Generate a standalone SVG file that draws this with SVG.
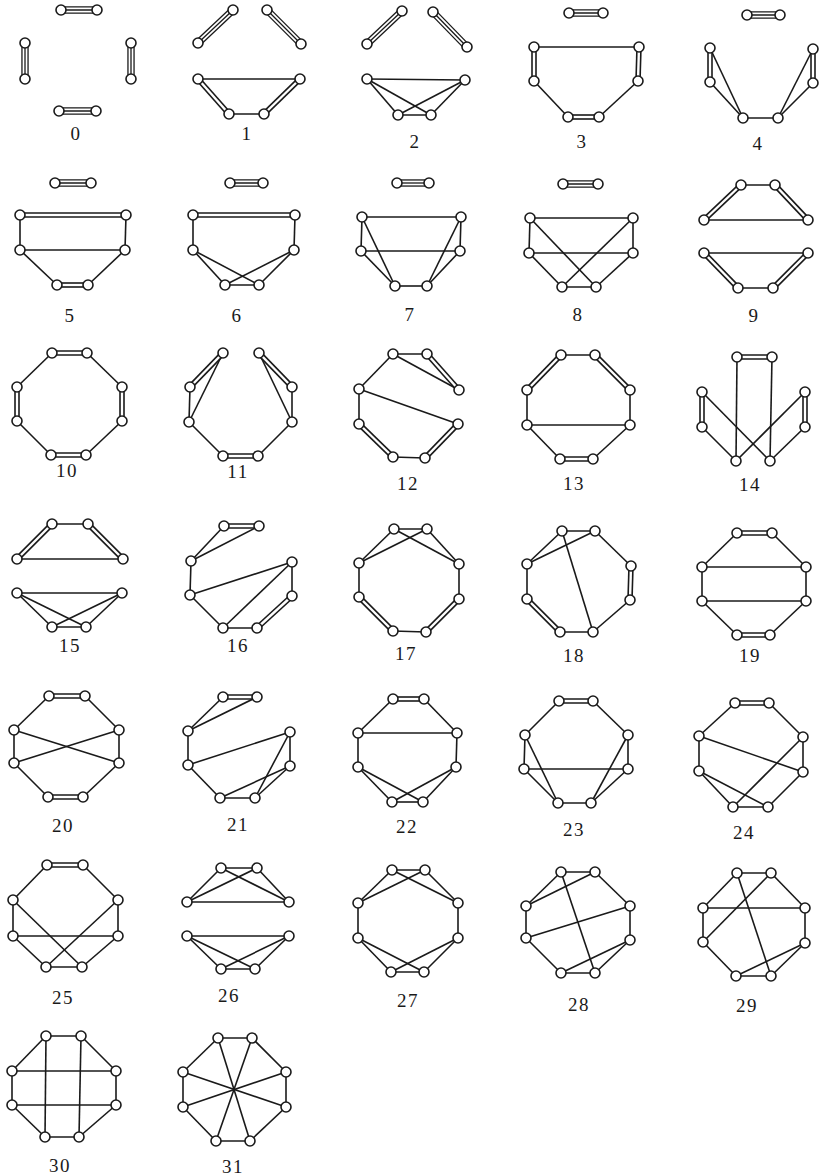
<svg xmlns="http://www.w3.org/2000/svg" xmlns:xlink="http://www.w3.org/1999/xlink" width="819" height="1176" viewBox="0 0 819 1176">
<style>
.s line{stroke:#1a1a1a;stroke-width:1.6}
.d1 line{stroke:#1a1a1a;stroke-width:5.6}
.d2 line{stroke:#fff;stroke-width:2.4}
.t1 line{stroke:#1a1a1a;stroke-width:7.4}
.t2 line{stroke:#fff;stroke-width:4.8}
.t3 line{stroke:#1a1a1a;stroke-width:1.3}
.nd{fill:#fff;stroke:#1a1a1a;stroke-width:1.6}
.lbl{font-family:"Liberation Serif",serif;font-size:19px;fill:#1a1a1a;text-anchor:middle;letter-spacing:1.5px}
</style>
<defs><circle id="n" class="nd" r="5"/></defs>
<rect width="819" height="1176" fill="#fff"/>

<g id="connectors">
<g id="e0">
<g class="t1"><line x1="61" y1="10" x2="97" y2="10"/><line x1="131" y1="43" x2="131" y2="79"/><line x1="96" y1="111" x2="59" y2="111"/><line x1="25" y1="79" x2="25" y2="43"/></g>
<g class="t2"><line x1="61" y1="10" x2="97" y2="10"/><line x1="131" y1="43" x2="131" y2="79"/><line x1="96" y1="111" x2="59" y2="111"/><line x1="25" y1="79" x2="25" y2="43"/></g>
<g class="t3"><line x1="61" y1="10" x2="97" y2="10"/><line x1="131" y1="43" x2="131" y2="79"/><line x1="96" y1="111" x2="59" y2="111"/><line x1="25" y1="79" x2="25" y2="43"/></g>
</g>
<g id="e1">
<g class="t1"><line x1="198" y1="43" x2="233" y2="10"/><line x1="267" y1="10" x2="301" y2="44"/></g>
<g class="t2"><line x1="198" y1="43" x2="233" y2="10"/><line x1="267" y1="10" x2="301" y2="44"/></g>
<g class="t3"><line x1="198" y1="43" x2="233" y2="10"/><line x1="267" y1="10" x2="301" y2="44"/></g>
<g class="s"><line x1="198" y1="79" x2="300" y2="79"/><line x1="229" y1="114" x2="264" y2="114"/></g>
<g class="d1"><line x1="198" y1="79" x2="229" y2="114"/><line x1="264" y1="114" x2="300" y2="79"/></g>
<g class="d2"><line x1="198" y1="79" x2="229" y2="114"/><line x1="264" y1="114" x2="300" y2="79"/></g>
</g>
<g id="e2">
<g class="t1"><line x1="367" y1="44" x2="402" y2="11"/><line x1="433" y1="12" x2="467" y2="47"/></g>
<g class="t2"><line x1="367" y1="44" x2="402" y2="11"/><line x1="433" y1="12" x2="467" y2="47"/></g>
<g class="t3"><line x1="367" y1="44" x2="402" y2="11"/><line x1="433" y1="12" x2="467" y2="47"/></g>
<g class="s"><line x1="367" y1="79" x2="465" y2="80"/><line x1="367" y1="79" x2="398" y2="115"/><line x1="367" y1="79" x2="431" y2="115"/><line x1="465" y1="80" x2="398" y2="115"/><line x1="465" y1="80" x2="431" y2="115"/><line x1="398" y1="115" x2="431" y2="115"/></g>
</g>
<g id="e3">
<g class="t1"><line x1="569" y1="13" x2="603" y2="13"/></g>
<g class="t2"><line x1="569" y1="13" x2="603" y2="13"/></g>
<g class="t3"><line x1="569" y1="13" x2="603" y2="13"/></g>
<g class="s"><line x1="534" y1="47" x2="639" y2="47"/><line x1="534" y1="81" x2="568" y2="117"/><line x1="638" y1="81" x2="599" y2="117"/></g>
<g class="d1"><line x1="534" y1="47" x2="534" y2="81"/><line x1="639" y1="47" x2="638" y2="81"/><line x1="568" y1="117" x2="599" y2="117"/></g>
<g class="d2"><line x1="534" y1="47" x2="534" y2="81"/><line x1="639" y1="47" x2="638" y2="81"/><line x1="568" y1="117" x2="599" y2="117"/></g>
</g>
<g id="e4">
<g class="t1"><line x1="747" y1="15" x2="780" y2="15"/></g>
<g class="t2"><line x1="747" y1="15" x2="780" y2="15"/></g>
<g class="t3"><line x1="747" y1="15" x2="780" y2="15"/></g>
<g class="s"><line x1="710" y1="48" x2="743" y2="118"/><line x1="710" y1="82" x2="743" y2="118"/><line x1="743" y1="118" x2="778" y2="118"/><line x1="778" y1="118" x2="813" y2="49"/><line x1="778" y1="118" x2="813" y2="83"/></g>
<g class="d1"><line x1="710" y1="48" x2="710" y2="82"/><line x1="813" y1="49" x2="813" y2="83"/></g>
<g class="d2"><line x1="710" y1="48" x2="710" y2="82"/><line x1="813" y1="49" x2="813" y2="83"/></g>
</g>
<g id="e5">
<g class="t1"><line x1="55" y1="183" x2="91" y2="183"/></g>
<g class="t2"><line x1="55" y1="183" x2="91" y2="183"/></g>
<g class="t3"><line x1="55" y1="183" x2="91" y2="183"/></g>
<g class="s"><line x1="20" y1="215" x2="20" y2="250"/><line x1="126" y1="215" x2="125" y2="250"/><line x1="20" y1="250" x2="125" y2="250"/><line x1="20" y1="250" x2="57" y2="285"/><line x1="125" y1="250" x2="88" y2="285"/></g>
<g class="d1"><line x1="20" y1="215" x2="126" y2="215"/><line x1="57" y1="285" x2="88" y2="285"/></g>
<g class="d2"><line x1="20" y1="215" x2="126" y2="215"/><line x1="57" y1="285" x2="88" y2="285"/></g>
</g>
<g id="e6">
<g class="t1"><line x1="230" y1="183" x2="263" y2="183"/></g>
<g class="t2"><line x1="230" y1="183" x2="263" y2="183"/></g>
<g class="t3"><line x1="230" y1="183" x2="263" y2="183"/></g>
<g class="s"><line x1="193" y1="215" x2="193" y2="250"/><line x1="295" y1="215" x2="294" y2="250"/><line x1="193" y1="250" x2="225" y2="285"/><line x1="193" y1="250" x2="259" y2="285"/><line x1="294" y1="250" x2="225" y2="285"/><line x1="294" y1="250" x2="259" y2="285"/><line x1="225" y1="285" x2="259" y2="285"/></g>
<g class="d1"><line x1="193" y1="215" x2="295" y2="215"/></g>
<g class="d2"><line x1="193" y1="215" x2="295" y2="215"/></g>
</g>
<g id="e7">
<g class="t1"><line x1="397" y1="183" x2="429" y2="183"/></g>
<g class="t2"><line x1="397" y1="183" x2="429" y2="183"/></g>
<g class="t3"><line x1="397" y1="183" x2="429" y2="183"/></g>
<g class="s"><line x1="362" y1="217" x2="461" y2="217"/><line x1="362" y1="217" x2="361" y2="251"/><line x1="362" y1="217" x2="395" y2="286"/><line x1="361" y1="251" x2="460" y2="251"/><line x1="361" y1="251" x2="395" y2="286"/><line x1="461" y1="217" x2="460" y2="251"/><line x1="461" y1="217" x2="427" y2="286"/><line x1="460" y1="251" x2="427" y2="286"/><line x1="395" y1="286" x2="427" y2="286"/></g>
</g>
<g id="e8">
<g class="t1"><line x1="563" y1="184" x2="598" y2="184"/></g>
<g class="t2"><line x1="563" y1="184" x2="598" y2="184"/></g>
<g class="t3"><line x1="563" y1="184" x2="598" y2="184"/></g>
<g class="s"><line x1="530" y1="218" x2="633" y2="218"/><line x1="530" y1="218" x2="529" y2="253"/><line x1="530" y1="218" x2="596" y2="287"/><line x1="633" y1="218" x2="633" y2="253"/><line x1="633" y1="218" x2="562" y2="287"/><line x1="529" y1="253" x2="633" y2="253"/><line x1="529" y1="253" x2="562" y2="287"/><line x1="633" y1="253" x2="596" y2="287"/><line x1="562" y1="287" x2="596" y2="287"/></g>
</g>
<g id="e9">
<g class="s"><line x1="741" y1="185" x2="775" y2="185"/><line x1="704" y1="220" x2="808" y2="220"/><line x1="704" y1="253" x2="808" y2="253"/><line x1="738" y1="288" x2="773" y2="288"/></g>
<g class="d1"><line x1="741" y1="185" x2="704" y2="220"/><line x1="775" y1="185" x2="808" y2="220"/><line x1="704" y1="253" x2="738" y2="288"/><line x1="773" y1="288" x2="808" y2="253"/></g>
<g class="d2"><line x1="741" y1="185" x2="704" y2="220"/><line x1="775" y1="185" x2="808" y2="220"/><line x1="704" y1="253" x2="738" y2="288"/><line x1="773" y1="288" x2="808" y2="253"/></g>
</g>
<g id="e10">
<g class="s"><line x1="87" y1="353" x2="122" y2="387"/><line x1="122" y1="421" x2="86" y2="455"/><line x1="51" y1="455" x2="17" y2="421"/><line x1="17" y1="387" x2="52" y2="353"/></g>
<g class="d1"><line x1="52" y1="353" x2="87" y2="353"/><line x1="122" y1="387" x2="122" y2="421"/><line x1="86" y1="455" x2="51" y2="455"/><line x1="17" y1="421" x2="17" y2="387"/></g>
<g class="d2"><line x1="52" y1="353" x2="87" y2="353"/><line x1="122" y1="387" x2="122" y2="421"/><line x1="86" y1="455" x2="51" y2="455"/><line x1="17" y1="421" x2="17" y2="387"/></g>
</g>
<g id="e11">
<g class="s"><line x1="223" y1="353" x2="189" y2="422"/><line x1="190" y1="387" x2="189" y2="422"/><line x1="189" y1="422" x2="223" y2="456"/><line x1="258" y1="456" x2="292" y2="422"/><line x1="292" y1="422" x2="292" y2="387"/><line x1="292" y1="422" x2="259" y2="353"/></g>
<g class="d1"><line x1="223" y1="353" x2="190" y2="387"/><line x1="223" y1="456" x2="258" y2="456"/><line x1="259" y1="353" x2="292" y2="387"/></g>
<g class="d2"><line x1="223" y1="353" x2="190" y2="387"/><line x1="223" y1="456" x2="258" y2="456"/><line x1="259" y1="353" x2="292" y2="387"/></g>
</g>
<g id="e12">
<g class="s"><line x1="393" y1="354" x2="427" y2="354"/><line x1="393" y1="354" x2="359" y2="389"/><line x1="393" y1="354" x2="459" y2="390"/><line x1="359" y1="389" x2="359" y2="424"/><line x1="359" y1="389" x2="458" y2="424"/><line x1="393" y1="457" x2="425" y2="458"/></g>
<g class="d1"><line x1="427" y1="354" x2="459" y2="390"/><line x1="359" y1="424" x2="393" y2="457"/><line x1="425" y1="458" x2="458" y2="424"/></g>
<g class="d2"><line x1="427" y1="354" x2="459" y2="390"/><line x1="359" y1="424" x2="393" y2="457"/><line x1="425" y1="458" x2="458" y2="424"/></g>
</g>
<g id="e13">
<g class="s"><line x1="561" y1="355" x2="595" y2="355"/><line x1="527" y1="390" x2="527" y2="425"/><line x1="630" y1="390" x2="630" y2="425"/><line x1="527" y1="425" x2="630" y2="425"/><line x1="527" y1="425" x2="560" y2="459"/><line x1="630" y1="425" x2="593" y2="459"/></g>
<g class="d1"><line x1="561" y1="355" x2="527" y2="390"/><line x1="595" y1="355" x2="630" y2="390"/><line x1="560" y1="459" x2="593" y2="459"/></g>
<g class="d2"><line x1="561" y1="355" x2="527" y2="390"/><line x1="595" y1="355" x2="630" y2="390"/><line x1="560" y1="459" x2="593" y2="459"/></g>
</g>
<g id="e14">
<g class="s"><line x1="737" y1="357" x2="736" y2="461"/><line x1="772" y1="357" x2="770" y2="461"/><line x1="702" y1="392" x2="770" y2="461"/><line x1="702" y1="427" x2="736" y2="461"/><line x1="805" y1="392" x2="736" y2="461"/><line x1="805" y1="427" x2="770" y2="461"/></g>
<g class="d1"><line x1="737" y1="357" x2="772" y2="357"/><line x1="702" y1="392" x2="702" y2="427"/><line x1="805" y1="392" x2="805" y2="427"/></g>
<g class="d2"><line x1="737" y1="357" x2="772" y2="357"/><line x1="702" y1="392" x2="702" y2="427"/><line x1="805" y1="392" x2="805" y2="427"/></g>
</g>
<g id="e15">
<g class="s"><line x1="52" y1="524" x2="88" y2="524"/><line x1="17" y1="559" x2="123" y2="559"/><line x1="17" y1="593" x2="122" y2="593"/><line x1="17" y1="593" x2="52" y2="627"/><line x1="17" y1="593" x2="86" y2="627"/><line x1="122" y1="593" x2="52" y2="627"/><line x1="122" y1="593" x2="86" y2="627"/><line x1="52" y1="627" x2="86" y2="627"/></g>
<g class="d1"><line x1="52" y1="524" x2="17" y2="559"/><line x1="88" y1="524" x2="123" y2="559"/></g>
<g class="d2"><line x1="52" y1="524" x2="17" y2="559"/><line x1="88" y1="524" x2="123" y2="559"/></g>
</g>
<g id="e16">
<g class="s"><line x1="224" y1="526" x2="191" y2="561"/><line x1="259" y1="526" x2="191" y2="561"/><line x1="191" y1="561" x2="190" y2="595"/><line x1="190" y1="595" x2="292" y2="562"/><line x1="190" y1="595" x2="223" y2="628"/><line x1="292" y1="562" x2="292" y2="596"/><line x1="292" y1="562" x2="223" y2="628"/><line x1="223" y1="628" x2="257" y2="628"/></g>
<g class="d1"><line x1="224" y1="526" x2="259" y2="526"/><line x1="292" y1="596" x2="257" y2="628"/></g>
<g class="d2"><line x1="224" y1="526" x2="259" y2="526"/><line x1="292" y1="596" x2="257" y2="628"/></g>
</g>
<g id="e17">
<g class="s"><line x1="394" y1="529" x2="427" y2="529"/><line x1="394" y1="529" x2="359" y2="563"/><line x1="394" y1="529" x2="459" y2="564"/><line x1="427" y1="529" x2="359" y2="563"/><line x1="427" y1="529" x2="459" y2="564"/><line x1="359" y1="563" x2="359" y2="597"/><line x1="393" y1="631" x2="426" y2="632"/><line x1="459" y1="599" x2="459" y2="564"/></g>
<g class="d1"><line x1="359" y1="597" x2="393" y2="631"/><line x1="426" y1="632" x2="459" y2="599"/></g>
<g class="d2"><line x1="359" y1="597" x2="393" y2="631"/><line x1="426" y1="632" x2="459" y2="599"/></g>
</g>
<g id="e18">
<g class="s"><line x1="562" y1="531" x2="595" y2="531"/><line x1="562" y1="531" x2="527" y2="564"/><line x1="562" y1="531" x2="593" y2="632"/><line x1="595" y1="531" x2="527" y2="564"/><line x1="595" y1="531" x2="631" y2="566"/><line x1="630" y1="600" x2="593" y2="632"/><line x1="593" y1="632" x2="560" y2="632"/><line x1="527" y1="599" x2="527" y2="564"/></g>
<g class="d1"><line x1="631" y1="566" x2="630" y2="600"/><line x1="560" y1="632" x2="527" y2="599"/></g>
<g class="d2"><line x1="631" y1="566" x2="630" y2="600"/><line x1="560" y1="632" x2="527" y2="599"/></g>
</g>
<g id="e19">
<g class="s"><line x1="737" y1="533" x2="702" y2="567"/><line x1="772" y1="533" x2="806" y2="567"/><line x1="702" y1="567" x2="806" y2="567"/><line x1="702" y1="567" x2="702" y2="601"/><line x1="806" y1="567" x2="806" y2="601"/><line x1="702" y1="601" x2="806" y2="601"/><line x1="702" y1="601" x2="737" y2="635"/><line x1="806" y1="601" x2="770" y2="635"/></g>
<g class="d1"><line x1="737" y1="533" x2="772" y2="533"/><line x1="737" y1="635" x2="770" y2="635"/></g>
<g class="d2"><line x1="737" y1="533" x2="772" y2="533"/><line x1="737" y1="635" x2="770" y2="635"/></g>
</g>
<g id="e20">
<g class="s"><line x1="49" y1="696" x2="14" y2="730"/><line x1="85" y1="696" x2="119" y2="730"/><line x1="14" y1="730" x2="14" y2="763"/><line x1="14" y1="730" x2="119" y2="763"/><line x1="14" y1="763" x2="119" y2="730"/><line x1="119" y1="730" x2="119" y2="763"/><line x1="14" y1="763" x2="48" y2="797"/><line x1="119" y1="763" x2="83" y2="797"/></g>
<g class="d1"><line x1="49" y1="696" x2="85" y2="696"/><line x1="48" y1="797" x2="83" y2="797"/></g>
<g class="d2"><line x1="49" y1="696" x2="85" y2="696"/><line x1="48" y1="797" x2="83" y2="797"/></g>
</g>
<g id="e21">
<g class="s"><line x1="223" y1="697" x2="188" y2="731"/><line x1="257" y1="697" x2="188" y2="731"/><line x1="188" y1="731" x2="188" y2="765"/><line x1="188" y1="765" x2="290" y2="732"/><line x1="188" y1="765" x2="220" y2="798"/><line x1="290" y1="732" x2="290" y2="766"/><line x1="290" y1="732" x2="255" y2="798"/><line x1="290" y1="766" x2="220" y2="798"/><line x1="290" y1="766" x2="255" y2="798"/><line x1="220" y1="798" x2="255" y2="798"/></g>
<g class="d1"><line x1="223" y1="697" x2="257" y2="697"/></g>
<g class="d2"><line x1="223" y1="697" x2="257" y2="697"/></g>
</g>
<g id="e22">
<g class="s"><line x1="393" y1="699" x2="358" y2="733"/><line x1="424" y1="699" x2="457" y2="733"/><line x1="358" y1="733" x2="457" y2="733"/><line x1="358" y1="733" x2="358" y2="767"/><line x1="457" y1="733" x2="456" y2="767"/><line x1="358" y1="767" x2="392" y2="802"/><line x1="358" y1="767" x2="423" y2="802"/><line x1="456" y1="767" x2="392" y2="802"/><line x1="456" y1="767" x2="423" y2="802"/><line x1="392" y1="802" x2="423" y2="802"/></g>
<g class="d1"><line x1="393" y1="699" x2="424" y2="699"/></g>
<g class="d2"><line x1="393" y1="699" x2="424" y2="699"/></g>
</g>
<g id="e23">
<g class="s"><line x1="559" y1="701" x2="525" y2="735"/><line x1="593" y1="701" x2="628" y2="735"/><line x1="525" y1="735" x2="524" y2="769"/><line x1="525" y1="735" x2="558" y2="803"/><line x1="524" y1="769" x2="628" y2="769"/><line x1="524" y1="769" x2="558" y2="803"/><line x1="628" y1="735" x2="628" y2="769"/><line x1="628" y1="735" x2="591" y2="803"/><line x1="628" y1="769" x2="591" y2="803"/><line x1="558" y1="803" x2="591" y2="803"/></g>
<g class="d1"><line x1="559" y1="701" x2="593" y2="701"/></g>
<g class="d2"><line x1="559" y1="701" x2="593" y2="701"/></g>
</g>
<g id="e24">
<g class="s"><line x1="735" y1="703" x2="699" y2="736"/><line x1="769" y1="703" x2="803" y2="737"/><line x1="699" y1="736" x2="699" y2="771"/><line x1="699" y1="736" x2="803" y2="772"/><line x1="803" y1="737" x2="803" y2="772"/><line x1="803" y1="737" x2="733" y2="807"/><line x1="699" y1="771" x2="733" y2="807"/><line x1="699" y1="771" x2="768" y2="807"/><line x1="803" y1="772" x2="768" y2="807"/><line x1="733" y1="807" x2="768" y2="807"/></g>
<g class="d1"><line x1="735" y1="703" x2="769" y2="703"/></g>
<g class="d2"><line x1="735" y1="703" x2="769" y2="703"/></g>
</g>
<g id="e25">
<g class="s"><line x1="47" y1="865" x2="13" y2="900"/><line x1="83" y1="865" x2="118" y2="900"/><line x1="13" y1="900" x2="13" y2="936"/><line x1="13" y1="900" x2="82" y2="967"/><line x1="13" y1="936" x2="118" y2="936"/><line x1="13" y1="936" x2="46" y2="967"/><line x1="118" y1="900" x2="118" y2="936"/><line x1="118" y1="900" x2="46" y2="967"/><line x1="118" y1="936" x2="82" y2="967"/><line x1="46" y1="967" x2="82" y2="967"/></g>
<g class="d1"><line x1="47" y1="865" x2="83" y2="865"/></g>
<g class="d2"><line x1="47" y1="865" x2="83" y2="865"/></g>
</g>
<g id="e26">
<g class="s"><line x1="221" y1="868" x2="257" y2="868"/><line x1="221" y1="868" x2="187" y2="902"/><line x1="221" y1="868" x2="289" y2="902"/><line x1="257" y1="868" x2="187" y2="902"/><line x1="257" y1="868" x2="289" y2="902"/><line x1="187" y1="902" x2="289" y2="902"/><line x1="187" y1="936" x2="289" y2="936"/><line x1="187" y1="936" x2="221" y2="969"/><line x1="187" y1="936" x2="255" y2="969"/><line x1="289" y1="936" x2="221" y2="969"/><line x1="289" y1="936" x2="255" y2="969"/><line x1="221" y1="969" x2="255" y2="969"/></g>
</g>
<g id="e27">
<g class="s"><line x1="392" y1="870" x2="425" y2="870"/><line x1="392" y1="870" x2="358" y2="903"/><line x1="392" y1="870" x2="458" y2="903"/><line x1="425" y1="870" x2="358" y2="903"/><line x1="425" y1="870" x2="458" y2="903"/><line x1="358" y1="903" x2="358" y2="938"/><line x1="458" y1="903" x2="458" y2="938"/><line x1="358" y1="938" x2="391" y2="972"/><line x1="358" y1="938" x2="424" y2="972"/><line x1="458" y1="938" x2="391" y2="972"/><line x1="458" y1="938" x2="424" y2="972"/><line x1="391" y1="972" x2="424" y2="972"/></g>
</g>
<g id="e28">
<g class="s"><line x1="561" y1="872" x2="595" y2="872"/><line x1="561" y1="872" x2="526" y2="906"/><line x1="561" y1="872" x2="595" y2="973"/><line x1="595" y1="872" x2="526" y2="906"/><line x1="595" y1="872" x2="630" y2="906"/><line x1="526" y1="906" x2="526" y2="938"/><line x1="526" y1="938" x2="630" y2="906"/><line x1="526" y1="938" x2="561" y2="973"/><line x1="630" y1="906" x2="630" y2="940"/><line x1="630" y1="940" x2="561" y2="973"/><line x1="630" y1="940" x2="595" y2="973"/><line x1="561" y1="973" x2="595" y2="973"/></g>
</g>
<g id="e29">
<g class="s"><line x1="737" y1="873" x2="771" y2="873"/><line x1="737" y1="873" x2="703" y2="908"/><line x1="737" y1="873" x2="771" y2="976"/><line x1="771" y1="873" x2="805" y2="908"/><line x1="771" y1="873" x2="703" y2="942"/><line x1="703" y1="908" x2="805" y2="908"/><line x1="703" y1="908" x2="703" y2="942"/><line x1="805" y1="908" x2="805" y2="943"/><line x1="703" y1="942" x2="736" y2="976"/><line x1="805" y1="943" x2="736" y2="976"/><line x1="805" y1="943" x2="771" y2="976"/><line x1="736" y1="976" x2="771" y2="976"/></g>
</g>
<g id="e30">
<g class="s"><line x1="46" y1="1036" x2="81" y2="1036"/><line x1="81" y1="1036" x2="116" y2="1071"/><line x1="116" y1="1071" x2="116" y2="1105"/><line x1="116" y1="1105" x2="79" y2="1137"/><line x1="79" y1="1137" x2="45" y2="1137"/><line x1="45" y1="1137" x2="12" y2="1105"/><line x1="12" y1="1105" x2="12" y2="1071"/><line x1="12" y1="1071" x2="46" y2="1036"/><line x1="46" y1="1036" x2="45" y2="1137"/><line x1="81" y1="1036" x2="79" y2="1137"/><line x1="12" y1="1071" x2="116" y2="1071"/><line x1="12" y1="1105" x2="116" y2="1105"/></g>
</g>
<g id="e31">
<g class="s"><line x1="218" y1="1038" x2="252" y2="1038"/><line x1="252" y1="1038" x2="286" y2="1072"/><line x1="286" y1="1072" x2="286" y2="1107"/><line x1="286" y1="1107" x2="250" y2="1141"/><line x1="250" y1="1141" x2="216" y2="1141"/><line x1="216" y1="1141" x2="183" y2="1107"/><line x1="183" y1="1107" x2="183" y2="1072"/><line x1="183" y1="1072" x2="218" y2="1038"/><line x1="218" y1="1038" x2="250" y2="1141"/><line x1="252" y1="1038" x2="216" y2="1141"/><line x1="183" y1="1072" x2="286" y2="1107"/><line x1="286" y1="1072" x2="183" y2="1107"/></g>
</g>
</g>

<g id="nodes">
<g id="g0"><use href="#n" x="61" y="10"/><use href="#n" x="97" y="10"/><use href="#n" x="131" y="43"/><use href="#n" x="131" y="79"/><use href="#n" x="96" y="111"/><use href="#n" x="59" y="111"/><use href="#n" x="25" y="79"/><use href="#n" x="25" y="43"/></g>
<g id="g1"><use href="#n" x="198" y="43"/><use href="#n" x="233" y="10"/><use href="#n" x="267" y="10"/><use href="#n" x="301" y="44"/><use href="#n" x="198" y="79"/><use href="#n" x="300" y="79"/><use href="#n" x="264" y="114"/><use href="#n" x="229" y="114"/></g>
<g id="g2"><use href="#n" x="367" y="44"/><use href="#n" x="402" y="11"/><use href="#n" x="433" y="12"/><use href="#n" x="467" y="47"/><use href="#n" x="367" y="79"/><use href="#n" x="465" y="80"/><use href="#n" x="431" y="115"/><use href="#n" x="398" y="115"/></g>
<g id="g3"><use href="#n" x="569" y="13"/><use href="#n" x="603" y="13"/><use href="#n" x="534" y="47"/><use href="#n" x="639" y="47"/><use href="#n" x="534" y="81"/><use href="#n" x="638" y="81"/><use href="#n" x="568" y="117"/><use href="#n" x="599" y="117"/></g>
<g id="g4"><use href="#n" x="747" y="15"/><use href="#n" x="780" y="15"/><use href="#n" x="710" y="48"/><use href="#n" x="710" y="82"/><use href="#n" x="813" y="49"/><use href="#n" x="813" y="83"/><use href="#n" x="743" y="118"/><use href="#n" x="778" y="118"/></g>
<g id="g5"><use href="#n" x="55" y="183"/><use href="#n" x="91" y="183"/><use href="#n" x="20" y="215"/><use href="#n" x="126" y="215"/><use href="#n" x="20" y="250"/><use href="#n" x="125" y="250"/><use href="#n" x="57" y="285"/><use href="#n" x="88" y="285"/></g>
<g id="g6"><use href="#n" x="230" y="183"/><use href="#n" x="263" y="183"/><use href="#n" x="193" y="215"/><use href="#n" x="295" y="215"/><use href="#n" x="193" y="250"/><use href="#n" x="294" y="250"/><use href="#n" x="225" y="285"/><use href="#n" x="259" y="285"/></g>
<g id="g7"><use href="#n" x="397" y="183"/><use href="#n" x="429" y="183"/><use href="#n" x="362" y="217"/><use href="#n" x="461" y="217"/><use href="#n" x="361" y="251"/><use href="#n" x="460" y="251"/><use href="#n" x="395" y="286"/><use href="#n" x="427" y="286"/></g>
<g id="g8"><use href="#n" x="563" y="184"/><use href="#n" x="598" y="184"/><use href="#n" x="530" y="218"/><use href="#n" x="633" y="218"/><use href="#n" x="529" y="253"/><use href="#n" x="633" y="253"/><use href="#n" x="562" y="287"/><use href="#n" x="596" y="287"/></g>
<g id="g9"><use href="#n" x="741" y="185"/><use href="#n" x="775" y="185"/><use href="#n" x="704" y="220"/><use href="#n" x="808" y="220"/><use href="#n" x="704" y="253"/><use href="#n" x="808" y="253"/><use href="#n" x="738" y="288"/><use href="#n" x="773" y="288"/></g>
<g id="g10"><use href="#n" x="52" y="353"/><use href="#n" x="87" y="353"/><use href="#n" x="122" y="387"/><use href="#n" x="122" y="421"/><use href="#n" x="86" y="455"/><use href="#n" x="51" y="455"/><use href="#n" x="17" y="421"/><use href="#n" x="17" y="387"/></g>
<g id="g11"><use href="#n" x="223" y="353"/><use href="#n" x="259" y="353"/><use href="#n" x="292" y="387"/><use href="#n" x="292" y="422"/><use href="#n" x="258" y="456"/><use href="#n" x="223" y="456"/><use href="#n" x="189" y="422"/><use href="#n" x="190" y="387"/></g>
<g id="g12"><use href="#n" x="393" y="354"/><use href="#n" x="427" y="354"/><use href="#n" x="459" y="390"/><use href="#n" x="458" y="424"/><use href="#n" x="425" y="458"/><use href="#n" x="393" y="457"/><use href="#n" x="359" y="424"/><use href="#n" x="359" y="389"/></g>
<g id="g13"><use href="#n" x="561" y="355"/><use href="#n" x="595" y="355"/><use href="#n" x="630" y="390"/><use href="#n" x="630" y="425"/><use href="#n" x="593" y="459"/><use href="#n" x="560" y="459"/><use href="#n" x="527" y="425"/><use href="#n" x="527" y="390"/></g>
<g id="g14"><use href="#n" x="737" y="357"/><use href="#n" x="772" y="357"/><use href="#n" x="805" y="392"/><use href="#n" x="805" y="427"/><use href="#n" x="770" y="461"/><use href="#n" x="736" y="461"/><use href="#n" x="702" y="427"/><use href="#n" x="702" y="392"/></g>
<g id="g15"><use href="#n" x="52" y="524"/><use href="#n" x="88" y="524"/><use href="#n" x="123" y="559"/><use href="#n" x="122" y="593"/><use href="#n" x="86" y="627"/><use href="#n" x="52" y="627"/><use href="#n" x="17" y="593"/><use href="#n" x="17" y="559"/></g>
<g id="g16"><use href="#n" x="224" y="526"/><use href="#n" x="259" y="526"/><use href="#n" x="292" y="562"/><use href="#n" x="292" y="596"/><use href="#n" x="257" y="628"/><use href="#n" x="223" y="628"/><use href="#n" x="190" y="595"/><use href="#n" x="191" y="561"/></g>
<g id="g17"><use href="#n" x="394" y="529"/><use href="#n" x="427" y="529"/><use href="#n" x="459" y="564"/><use href="#n" x="459" y="599"/><use href="#n" x="426" y="632"/><use href="#n" x="393" y="631"/><use href="#n" x="359" y="597"/><use href="#n" x="359" y="563"/></g>
<g id="g18"><use href="#n" x="562" y="531"/><use href="#n" x="595" y="531"/><use href="#n" x="631" y="566"/><use href="#n" x="630" y="600"/><use href="#n" x="593" y="632"/><use href="#n" x="560" y="632"/><use href="#n" x="527" y="599"/><use href="#n" x="527" y="564"/></g>
<g id="g19"><use href="#n" x="737" y="533"/><use href="#n" x="772" y="533"/><use href="#n" x="806" y="567"/><use href="#n" x="806" y="601"/><use href="#n" x="770" y="635"/><use href="#n" x="737" y="635"/><use href="#n" x="702" y="601"/><use href="#n" x="702" y="567"/></g>
<g id="g20"><use href="#n" x="49" y="696"/><use href="#n" x="85" y="696"/><use href="#n" x="119" y="730"/><use href="#n" x="119" y="763"/><use href="#n" x="83" y="797"/><use href="#n" x="48" y="797"/><use href="#n" x="14" y="763"/><use href="#n" x="14" y="730"/></g>
<g id="g21"><use href="#n" x="223" y="697"/><use href="#n" x="257" y="697"/><use href="#n" x="290" y="732"/><use href="#n" x="290" y="766"/><use href="#n" x="255" y="798"/><use href="#n" x="220" y="798"/><use href="#n" x="188" y="765"/><use href="#n" x="188" y="731"/></g>
<g id="g22"><use href="#n" x="393" y="699"/><use href="#n" x="424" y="699"/><use href="#n" x="457" y="733"/><use href="#n" x="456" y="767"/><use href="#n" x="423" y="802"/><use href="#n" x="392" y="802"/><use href="#n" x="358" y="767"/><use href="#n" x="358" y="733"/></g>
<g id="g23"><use href="#n" x="559" y="701"/><use href="#n" x="593" y="701"/><use href="#n" x="628" y="735"/><use href="#n" x="628" y="769"/><use href="#n" x="591" y="803"/><use href="#n" x="558" y="803"/><use href="#n" x="524" y="769"/><use href="#n" x="525" y="735"/></g>
<g id="g24"><use href="#n" x="735" y="703"/><use href="#n" x="769" y="703"/><use href="#n" x="803" y="737"/><use href="#n" x="803" y="772"/><use href="#n" x="768" y="807"/><use href="#n" x="733" y="807"/><use href="#n" x="699" y="771"/><use href="#n" x="699" y="736"/></g>
<g id="g25"><use href="#n" x="47" y="865"/><use href="#n" x="83" y="865"/><use href="#n" x="118" y="900"/><use href="#n" x="118" y="936"/><use href="#n" x="82" y="967"/><use href="#n" x="46" y="967"/><use href="#n" x="13" y="936"/><use href="#n" x="13" y="900"/></g>
<g id="g26"><use href="#n" x="221" y="868"/><use href="#n" x="257" y="868"/><use href="#n" x="289" y="902"/><use href="#n" x="289" y="936"/><use href="#n" x="255" y="969"/><use href="#n" x="221" y="969"/><use href="#n" x="187" y="936"/><use href="#n" x="187" y="902"/></g>
<g id="g27"><use href="#n" x="392" y="870"/><use href="#n" x="425" y="870"/><use href="#n" x="458" y="903"/><use href="#n" x="458" y="938"/><use href="#n" x="424" y="972"/><use href="#n" x="391" y="972"/><use href="#n" x="358" y="938"/><use href="#n" x="358" y="903"/></g>
<g id="g28"><use href="#n" x="561" y="872"/><use href="#n" x="595" y="872"/><use href="#n" x="630" y="906"/><use href="#n" x="630" y="940"/><use href="#n" x="595" y="973"/><use href="#n" x="561" y="973"/><use href="#n" x="526" y="938"/><use href="#n" x="526" y="906"/></g>
<g id="g29"><use href="#n" x="737" y="873"/><use href="#n" x="771" y="873"/><use href="#n" x="805" y="908"/><use href="#n" x="805" y="943"/><use href="#n" x="771" y="976"/><use href="#n" x="736" y="976"/><use href="#n" x="703" y="942"/><use href="#n" x="703" y="908"/></g>
<g id="g30"><use href="#n" x="46" y="1036"/><use href="#n" x="81" y="1036"/><use href="#n" x="116" y="1071"/><use href="#n" x="116" y="1105"/><use href="#n" x="79" y="1137"/><use href="#n" x="45" y="1137"/><use href="#n" x="12" y="1105"/><use href="#n" x="12" y="1071"/></g>
<g id="g31"><use href="#n" x="218" y="1038"/><use href="#n" x="252" y="1038"/><use href="#n" x="286" y="1072"/><use href="#n" x="286" y="1107"/><use href="#n" x="250" y="1141"/><use href="#n" x="216" y="1141"/><use href="#n" x="183" y="1107"/><use href="#n" x="183" y="1072"/></g>
</g>

<g id="labels" class="lbl">
<text x="76" y="140">0</text><text x="247" y="140">1</text><text x="415" y="148">2</text><text x="582" y="148">3</text><text x="758" y="150">4</text>
<text x="70" y="322">5</text><text x="237" y="322">6</text><text x="410" y="321">7</text><text x="578" y="321">8</text><text x="754" y="322">9</text>
<text x="67" y="477">10</text><text x="238" y="478">11</text><text x="408" y="490">12</text><text x="574" y="490">13</text><text x="750" y="491">14</text>
<text x="70" y="652">15</text><text x="238" y="652">16</text><text x="406" y="660">17</text><text x="574" y="662">18</text><text x="750" y="662">19</text>
<text x="63" y="832">20</text><text x="238" y="831">21</text><text x="407" y="833">22</text><text x="574" y="836">23</text><text x="744" y="839">24</text>
<text x="63" y="1004">25</text><text x="229" y="1002">26</text><text x="408" y="1007">27</text><text x="579" y="1011">28</text><text x="747" y="1012">29</text>
<text x="60" y="1172">30</text><text x="233" y="1173">31</text>
</g>
</svg>
